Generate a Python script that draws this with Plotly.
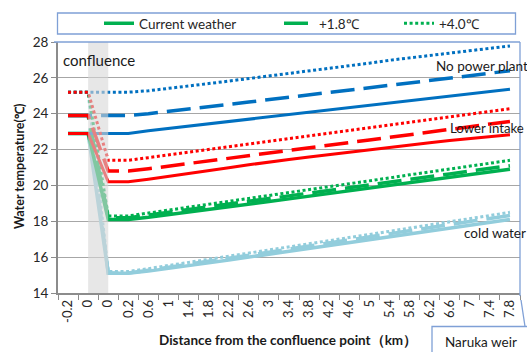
import plotly.graph_objects as go

# ---------------- data ----------------
categories = ["-0.2", "0", "0", "0.2", "0.6", "1", "1.4", "1.8", "2.2", "2.6", "3",
              "3.4", "3.8", "4.2", "4.6", "5", "5.4", "5.8", "6.2", "6.6", "7", "7.4", "7.8"]

nopp_current = [22.9, 22.9, 22.9, 22.9, 23.05, 23.18, 23.3, 23.42, 23.55, 23.68, 23.8, 23.93,
                24.06, 24.2, 24.33, 24.46, 24.58, 24.71, 24.85, 24.98, 25.1, 25.24, 25.37]
nopp_p18 = [23.9, 23.9, 23.9, 23.9, 24.0, 24.12, 24.25, 24.38, 24.52, 24.65, 24.78, 24.92,
            25.05, 25.18, 25.32, 25.45, 25.58, 25.71, 25.85, 25.98, 26.12, 26.26, 26.4]
nopp_p40 = [25.2, 25.2, 25.2, 25.2, 25.28, 25.4, 25.55, 25.68, 25.82, 25.96, 26.1, 26.23,
            26.37, 26.5, 26.64, 26.82, 26.98, 27.12, 27.26, 27.38, 27.5, 27.64, 27.78]

lower_current = [22.9, 22.9, 20.2, 20.2, 20.35, 20.5, 20.65, 20.82, 20.98, 21.15, 21.32, 21.45,
                 21.58, 21.72, 21.85, 21.98, 22.1, 22.25, 22.38, 22.5, 22.62, 22.73, 22.83]
lower_p18 = [23.9, 23.9, 20.8, 20.8, 20.93, 21.08, 21.22, 21.37, 21.52, 21.66, 21.8, 21.95,
             22.1, 22.24, 22.39, 22.53, 22.68, 22.83, 22.97, 23.12, 23.27, 23.42, 23.57]
lower_p40 = [25.2, 25.2, 21.4, 21.4, 21.55, 21.7, 21.85, 22.0, 22.15, 22.3, 22.45, 22.6,
             22.76, 22.91, 23.06, 23.21, 23.37, 23.52, 23.67, 23.82, 23.97, 24.13, 24.28]

mix_current = [22.9, 22.9, 18.1, 18.1, 18.22, 18.36, 18.5, 18.65, 18.8, 18.95, 19.1, 19.25,
               19.4, 19.54, 19.68, 19.83, 19.98, 20.12, 20.27, 20.42, 20.57, 20.73, 20.9]
mix_p18 = [23.9, 23.9, 18.2, 18.2, 18.35, 18.5, 18.66, 18.81, 18.96, 19.12, 19.27, 19.42,
           19.57, 19.73, 19.88, 20.03, 20.18, 20.34, 20.49, 20.64, 20.8, 20.95, 21.1]
mix_p40 = [25.2, 25.2, 18.3, 18.3, 18.46, 18.62, 18.79, 18.95, 19.12, 19.28, 19.44, 19.6,
           19.77, 19.93, 20.1, 20.26, 20.42, 20.59, 20.75, 20.91, 21.08, 21.24, 21.4]

cold_current = [22.9, 22.9, 15.1, 15.1, 15.22, 15.36, 15.52, 15.68, 15.84, 16.0, 16.15, 16.31,
                16.47, 16.62, 16.78, 16.94, 17.1, 17.26, 17.42, 17.58, 17.74, 17.92, 18.1]
cold_p18 = [23.9, 23.9, 15.12, 15.12, 15.27, 15.43, 15.6, 15.77, 15.94, 16.11, 16.28, 16.45,
            16.62, 16.79, 16.96, 17.13, 17.3, 17.47, 17.64, 17.81, 17.98, 18.15, 18.33]
cold_p40 = [25.2, 25.2, 15.2, 15.2, 15.36, 15.53, 15.7, 15.88, 16.05, 16.22, 16.4, 16.57,
            16.75, 16.92, 17.1, 17.27, 17.44, 17.62, 17.8, 17.97, 18.15, 18.32, 18.5]

legend_names = ["Current weather", "+1.8℃", "+4.0℃"]

# ---------------- figure ----------------
FONT = "Lato"
BLUE = "#0070C0"
RED = "#FF0000"
GREEN = "#00B050"
LBLUE = "#92CDDC"
DASH = "24px,9px"
DOT = "3px,2.6px"

x = list(range(len(categories)))
fig = go.Figure()

def add(y, color, dash, width, name=None, legend=None):
    fig.add_trace(go.Scatter(
        x=x, y=y, mode="lines",
        line=dict(color=color, width=width, dash=dash),
        name=name if name else "",
        showlegend=name is not None,
        legend=legend if legend else "legend",
        hoverinfo="skip",
    ))

# light blue (cold water)
add(cold_p40, LBLUE, DOT, 3)
add(cold_p18, LBLUE, DASH, 3.5)
add(cold_current, LBLUE, "solid", 3.5)
# green (current mixing) -> legend
add(mix_p40, GREEN, DOT, 3, legend_names[2], "legend3")
add(mix_p18, GREEN, DASH, 3.5, legend_names[1], "legend2")
add(mix_current, GREEN, "solid", 3.5, legend_names[0], "legend")
# blue (no power plant)
add(nopp_p40, BLUE, DOT, 3)
add(nopp_p18, BLUE, DASH, 3.5)
add(nopp_current, BLUE, "solid", 3)
# red (lower intake)
add(lower_p40, RED, DOT, 3)
add(lower_p18, RED, DASH, 3.5)
add(lower_current, RED, "solid", 3)

W, H = 527, 352
L, R, T, B = 58, 7, 42, 59
PW, PH = W - L - R, H - T - B

def px(xp):
    return (xp - L) / PW

def py(yp):
    return (H - B - yp) / PH

leg_common = dict(orientation="h", yanchor="middle", xanchor="left",
                  bgcolor="rgba(0,0,0,0)", borderwidth=0,
                  font=dict(family=FONT, size=13.5, color="#262626"))

fig.update_layout(
    width=W, height=H,
    margin=dict(l=L, r=R, t=T, b=B),
    paper_bgcolor="white", plot_bgcolor="white",
    font=dict(family=FONT, color="#262626"),
    legend=dict(x=px(99), y=py(23.5), **leg_common),
    legend2=dict(x=px(279), y=py(23.5), **leg_common),
    legend3=dict(x=px(399), y=py(23.5), **leg_common),
    xaxis=dict(
        range=[-0.5, len(categories) - 0.5],
        tickmode="array", tickvals=x, ticktext=categories,
        tickangle=-90, ticks="", tickfont=dict(family=FONT, size=13, color="#262626"),
        showgrid=False, zeroline=False,
        showline=True, linecolor="#8C8C8C", linewidth=1.5,
        minor=dict(tick0=-0.5, dtick=1, ticks="outside", ticklen=5,
                   tickcolor="#8C8C8C", tickwidth=1, showgrid=False),
    ),
    yaxis=dict(
        range=[14, 28], dtick=2, tick0=14,
        ticks="outside", ticklen=5, tickcolor="#8C8C8C",
        tickfont=dict(family=FONT, size=13.5, color="#262626"),
        showgrid=True, gridcolor="#A6A6A6", gridwidth=1,
        zeroline=False, showline=True, linecolor="#8C8C8C", linewidth=2,
    ),
)

BORDER = "#7FA0D6"
# confluence band (translucent, above the lines)
fig.add_shape(type="rect", xref="x", yref="paper", x0=1, x1=2, y0=0, y1=1,
              fillcolor="rgba(215,215,215,0.6)", line=dict(width=0), layer="above")
# top and right border lines
fig.add_shape(type="line", xref="paper", yref="paper", x0=px(54), x1=1, y0=1, y1=1,
              line=dict(color=BORDER, width=1.3))
fig.add_shape(type="line", xref="paper", yref="paper", x0=1, x1=1, y0=py(296), y1=1,
              line=dict(color=BORDER, width=1.3))
# legend box
fig.add_shape(type="rect", xref="paper", yref="paper", x0=px(57.5), x1=px(515.5),
              y0=py(34), y1=py(13), line=dict(color=BORDER, width=1.3),
              fillcolor="rgba(0,0,0,0)")
# Naruka weir callout
fig.add_shape(type="rect", xref="paper", yref="paper", x0=px(432), x1=px(540),
              y0=py(362), y1=py(326.5), line=dict(color=BORDER, width=1.3),
              fillcolor="white")
fig.add_shape(type="line", xref="paper", yref="paper", x0=px(525), x1=px(521),
              y0=py(326.5), y1=py(300), line=dict(color=BORDER, width=1.3))

def note(text, xp, yp, size, anchor="left", bold=False, angle=0):
    fig.add_annotation(text=f"<b>{text}</b>" if bold else text,
                       xref="paper", yref="paper", x=px(xp), y=py(yp),
                       xanchor=anchor, yanchor="middle", showarrow=False,
                       textangle=angle,
                       font=dict(family=FONT, size=size, color="#1a1a1a"))

note("confluence", 61, 60, 15)
note("No power plant", 434, 66, 13.5)
note("Lower intake", 448, 128, 13.2)
note("cold water", 462, 233, 13.5)
note("Naruka weir", 481, 342, 13.5, anchor="center")
note("Distance from the confluence point（km）", 288, 340, 13.5, anchor="center", bold=True)
note("Water temperature(℃)", 19, 167, 12.5, anchor="center", bold=True, angle=-90)

fig.write_html("out.html", config={"displayModeBar": False},
               post_script="document.body.style.margin='0';document.body.style.overflow='hidden';")
